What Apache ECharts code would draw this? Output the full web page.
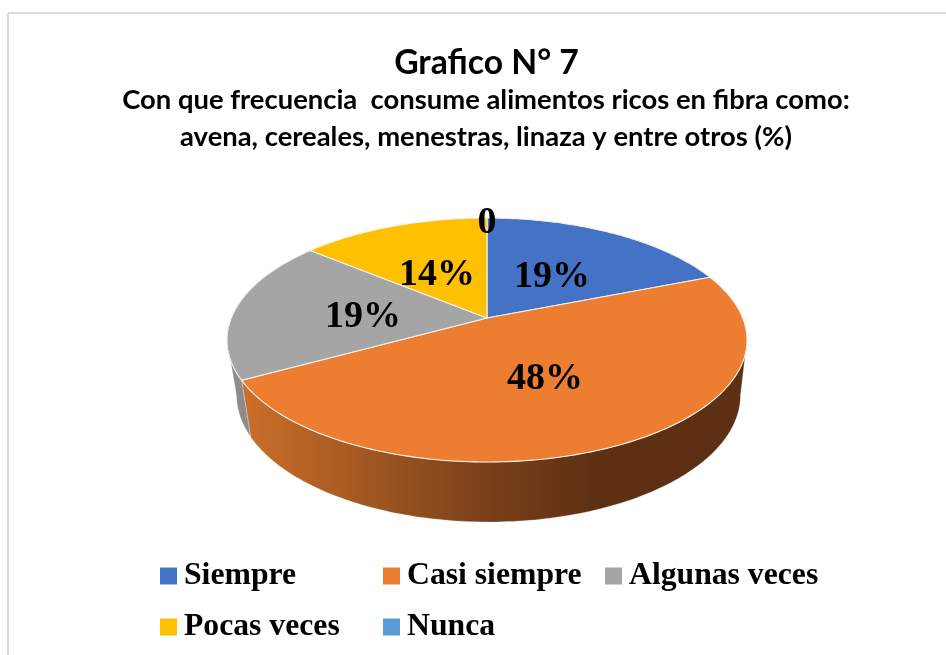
<!DOCTYPE html>
<html>
<head>
<meta charset="utf-8">
<title>Grafico N° 7</title>
<script src="https://cdn.jsdelivr.net/npm/echarts@6/dist/echarts.min.js"></script>
<style>
  html, body { margin: 0; padding: 0; background: #fff; }
  #main { width: 946px; height: 655px; }
</style>
</head>
<body>
<div id="main"></div>
<script>
// datos (%)
const categories = ['Siempre', 'Casi siempre', 'Algunas veces', 'Pocas veces', 'Nunca'];
const values = [19, 48, 19, 14, 0];
const valueLabels = ['19%', '48%', '19%', '14%', '0'];

const colors = ['#4472C4', '#ED7D31', '#A5A5A5', '#FFC000', '#5B9BD5'];
const wallStops = [
  [[0, '#34558f'], [1, '#34558f']],
  [[0, '#cc6f2a'], [0.48, '#7a4119'], [0.7, '#5e3013'], [1, '#5e3013']],
  [[0, '#8c8c8c'], [1, '#8c8c8c']],
  [[0, '#bf9000'], [1, '#bf9000']],
  [[0, '#447ab0'], [1, '#447ab0']]
];

// posicion de las etiquetas y de la leyenda
const labelPos = [[552, 277], [545, 379], [363, 317], [437, 275], [487, 223]];
const legendPos = [[160, 560], [383, 560], [605, 560], [160, 611], [383, 611]];

// elipse superior e inferior del pastel en perspectiva
const topDisc = { cx: 487, cy: 340, rx: 260, ry: 122 };
const bottomDisc = { cx: 488.5, cy: 395, rx: 252, ry: 127 };
const persp = 0.18;

const total = values.reduce((a, b) => a + b, 0);

// angulos donde el borde del pastel llega a sus extremos: solo ahi se ve la pared
const wallFrom = Math.acos(-persp) * 180 / Math.PI;
const wallTo = 360 - wallFrom;

function project(disc, deg) {
  const a = deg * Math.PI / 180;
  const x = Math.sin(a), y = Math.cos(a);
  const k = 1 + persp * y;
  return [
    disc.cx + disc.rx * x * Math.sqrt(1 - persp * persp) / k,
    disc.cy - disc.ry * (y + persp) / k
  ];
}

function arc(disc, from, to) {
  const pts = [];
  const n = Math.max(1, Math.ceil(to - from));
  for (let i = 0; i <= n; i++) {
    pts.push(project(disc, from + (to - from) * i / n));
  }
  return pts;
}

function renderSlice(params, api) {
  const i = params.seriesIndex;
  const before = values.slice(0, i).reduce((a, b) => a + b, 0);
  const start = before / total * 360;
  const end = (before + api.value(0)) / total * 360;
  const apex = [topDisc.cx, topDisc.cy - topDisc.ry * persp];
  const children = [];
  const wallStart = Math.max(start, wallFrom);
  const wallEnd = Math.min(end, wallTo);
  if (wallEnd > wallStart) {
    children.push({
      type: 'polygon',
      z2: 1,
      shape: { points: arc(topDisc, wallStart, wallEnd).concat(arc(bottomDisc, wallStart, wallEnd).reverse()) },
      style: {
        fill: new echarts.graphic.LinearGradient(0, 0, 1, 0, wallStops[i].map(s => ({ offset: s[0], color: s[1] }))),
        stroke: 'rgba(255,255,255,0.45)',
        lineWidth: 0.6
      }
    });
  }
  if (end > start) {
    children.push({
      type: 'polygon',
      z2: 5,
      shape: { points: [apex].concat(arc(topDisc, start, end)) },
      style: { fill: colors[i], stroke: '#f2f2f2', lineWidth: 1.1 }
    });
  }
  children.push({
    type: 'text',
    z2: 10,
    x: labelPos[i][0],
    y: labelPos[i][1],
    style: {
      text: valueLabels[i],
      fill: '#000',
      font: 'bold 38px "Liberation Serif"',
      align: 'center',
      verticalAlign: 'middle'
    }
  });
  return { type: 'group', children: children };
}

var myChart = echarts.init(document.getElementById('main'));
var option = {
  animation: false,
  backgroundColor: '#fff',
  title: [
    {
      text: 'Grafico N° 7',
      left: 486.5,
      top: 46,
      padding: 0,
      textAlign: 'center',
      textStyle: { fontFamily: 'Lato', fontWeight: 'bold', fontSize: 33.7, color: '#000' }
    },
    {
      text: 'Con que frecuencia  consume alimentos ricos en fibra como:\navena, cereales, menestras, linaza y entre otros (%)',
      left: 486,
      top: 82,
      padding: 0,
      textAlign: 'center',
      textStyle: { fontFamily: 'Lato', fontWeight: 'bold', fontSize: 27.4, lineHeight: 37, color: '#000' }
    }
  ],
  legend: categories.map((name, i) => ({
    data: [name],
    left: legendPos[i][0],
    top: legendPos[i][1],
    padding: 0,
    itemWidth: 17,
    itemHeight: 17,
    itemGap: 0,
    selectedMode: false,
    icon: 'rect',
    textStyle: { fontFamily: 'Liberation Serif', fontWeight: 'bold', fontSize: 31.7, color: '#000', padding: [0, 0, 0, 2] }
  })),
  graphic: [
    { type: 'line', shape: { x1: 8, y1: 13, x2: 946, y2: 13 }, style: { stroke: '#dcdcdc', lineWidth: 2 } },
    { type: 'line', shape: { x1: 8, y1: 13, x2: 8, y2: 655 }, style: { stroke: '#dcdcdc', lineWidth: 2 } }
  ],
  series: categories.map((name, i) => ({
    name: name,
    type: 'custom',
    coordinateSystem: 'none',
    itemStyle: { color: colors[i] },
    data: [[values[i]]],
    renderItem: renderSlice
  }))
};
myChart.setOption(option);
</script>
</body>
</html>
